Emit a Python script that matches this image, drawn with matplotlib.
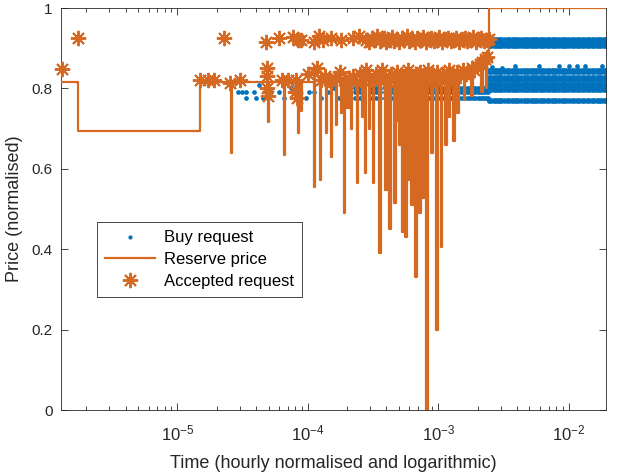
import numpy as np
import matplotlib.pyplot as plt

plt.rcParams['font.family'] = ['Liberation Sans', 'DejaVu Sans']
plt.rcParams['mathtext.fontset'] = 'custom'
plt.rcParams['mathtext.rm'] = 'Liberation Sans'
plt.rcParams['mathtext.it'] = 'Liberation Sans'
plt.rcParams['mathtext.default'] = 'regular'

BLUE = '#0072BD'
ORANGE = '#D56921'
AX_COL = '#262626'

# --- reserve price (stairs) ---
# opening steps
reserve_start_t = [1.28e-6, 1.73e-6, 1.50e-5]
reserve_start_p = [0.816, 0.694, 0.816]
# short drops: time, lowest price, price after the drop
spike_t = [2.56e-5, 4.92e-5, 6.53e-5, 8.37e-5, 8.83e-5, 1.11e-4, 1.24e-4, 1.37e-4,
           1.50e-4, 1.64e-4, 1.79e-4, 1.89e-4, 2.0e-4, 2.14e-4, 2.38e-4, 2.60e-4,
           2.74e-4, 2.94e-4, 3.16e-4, 3.52e-4, 3.91e-4, 4.20e-4, 4.59e-4, 4.84e-4,
           5.01e-4, 5.28e-4, 5.57e-4, 5.78e-4, 6.20e-4, 6.65e-4, 7.14e-4, 7.53e-4,
           8.09e-4, 8.84e-4, 9.66e-4, 1.05e-3, 1.13e-3, 1.19e-3, 1.30e-3, 1.40e-3,
           1.56e-3, 1.79e-3, 2.14e-3, 2.30e-3]
spike_low = [0.64, 0.716, 0.634, 0.69, 0.745, 0.555, 0.572, 0.69,
             0.63, 0.71, 0.74, 0.49, 0.75, 0.70, 0.565, 0.73,
             0.59, 0.70, 0.565, 0.39, 0.547, 0.45, 0.515, 0.72,
             0.66, 0.443, 0.43, 0.572, 0.51, 0.33, 0.49, 0.527,
             0.0, 0.64, 0.2, 0.405, 0.66, 0.73, 0.67, 0.74,
             0.77, 0.78, 0.79, 0.80]
spike_after = [0.816, 0.816, 0.816, 0.816, 0.816, 0.82, 0.816, 0.82,
               0.816, 0.82, 0.82, 0.816, 0.82, 0.82, 0.816, 0.82,
               0.82, 0.825, 0.82, 0.82, 0.825, 0.82, 0.825, 0.82,
               0.825, 0.825, 0.82, 0.825, 0.82, 0.825, 0.82, 0.825,
               0.82, 0.825, 0.82, 0.825, 0.83, 0.83, 0.83, 0.835,
               0.84, 0.85, 0.865, 0.88]
reserve_end_t = [2.43e-3, 1.93e-2]
reserve_end_p = [1.0, 1.0]

# --- accepted requests ---
acc_hi_t = [1.73e-6, 2.26e-5, 4.75e-5, 5.98e-5, 7.7e-5, 8.4e-5, 8.9e-5, 1.11e-4,
            1.22e-4, 1.30e-4, 1.50e-4, 1.79e-4, 2.22e-4, 2.47e-4, 2.8e-4, 2.95e-4,
            3.1e-4, 3.25e-4, 3.4e-4, 3.55e-4, 3.7e-4, 3.85e-4, 4.0e-4, 4.2e-4,
            4.4e-4, 4.6e-4, 4.8e-4, 5.0e-4, 5.25e-4, 5.5e-4, 5.75e-4, 6.0e-4,
            6.3e-4, 6.6e-4, 6.9e-4, 7.2e-4, 7.6e-4, 8.0e-4, 8.4e-4, 8.8e-4,
            9.2e-4, 9.7e-4, 1.02e-3, 1.07e-3, 1.12e-3, 1.18e-3, 1.24e-3, 1.3e-3,
            1.37e-3, 1.44e-3, 1.51e-3, 1.59e-3, 1.67e-3, 1.75e-3, 1.84e-3, 1.93e-3,
            2.03e-3, 2.13e-3, 2.24e-3, 2.35e-3, 2.43e-3]
acc_hi_p = [0.925, 0.925, 0.915, 0.925, 0.928, 0.92, 0.92, 0.915,
            0.93, 0.92, 0.925, 0.92, 0.925, 0.93, 0.92, 0.915,
            0.925, 0.92, 0.93, 0.918, 0.922, 0.926, 0.915, 0.92,
            0.928, 0.918, 0.922, 0.915, 0.925, 0.92, 0.93, 0.918,
            0.922, 0.915, 0.925, 0.92, 0.928, 0.916, 0.922, 0.925,
            0.918, 0.92, 0.927, 0.915, 0.922, 0.925, 0.918, 0.92,
            0.926, 0.916, 0.922, 0.925, 0.918, 0.92, 0.927, 0.916,
            0.922, 0.925, 0.918, 0.92, 0.922]
acc_lo_t = [1.30e-6, 1.50e-5, 1.70e-5, 1.89e-5, 2.51e-5, 3.0e-5, 4.84e-5, 4.84e-5,
            4.90e-5, 4.95e-5, 6.31e-5, 7.02e-5, 8.0e-5, 8.09e-5, 8.2e-5, 1.0e-4,
            1.11e-4, 1.17e-4, 1.25e-4, 1.35e-4, 1.45e-4, 1.6e-4, 1.75e-4, 1.9e-4,
            2.05e-4, 2.2e-4, 2.35e-4, 2.5e-4, 2.65e-4, 2.8e-4, 2.95e-4, 3.1e-4,
            3.3e-4, 3.5e-4, 3.7e-4, 3.9e-4, 4.1e-4, 4.3e-4, 4.55e-4, 4.8e-4,
            5.05e-4, 5.3e-4, 5.6e-4, 5.9e-4, 6.2e-4, 6.55e-4, 6.9e-4, 7.25e-4,
            7.6e-4, 8.0e-4, 8.4e-4, 8.85e-4, 9.3e-4, 9.8e-4, 1.03e-3, 1.08e-3,
            1.14e-3, 1.2e-3, 1.26e-3, 1.33e-3, 1.4e-3, 1.47e-3, 1.55e-3, 1.63e-3,
            1.71e-3, 1.8e-3, 1.89e-3, 1.98e-3, 2.08e-3, 2.18e-3, 2.28e-3, 2.38e-3]
acc_lo_p = [0.848, 0.82, 0.82, 0.82, 0.813, 0.82, 0.85, 0.83,
            0.80, 0.78, 0.82, 0.82, 0.79, 0.82, 0.776, 0.835,
            0.84, 0.85, 0.82, 0.83, 0.82, 0.825, 0.84, 0.82,
            0.825, 0.83, 0.815, 0.835, 0.82, 0.845, 0.825, 0.82,
            0.835, 0.82, 0.845, 0.825, 0.815, 0.835, 0.82, 0.84,
            0.825, 0.83, 0.815, 0.845, 0.825, 0.82, 0.835, 0.84,
            0.825, 0.82, 0.845, 0.83, 0.82, 0.84, 0.825, 0.835,
            0.82, 0.845, 0.83, 0.825, 0.84, 0.83, 0.845, 0.835,
            0.84, 0.85, 0.845, 0.855, 0.86, 0.865, 0.872, 0.878]

# --- buy requests ---
buy_early_t = [2.90e-5, 3.10e-5, 3.33e-5, 3.33e-5, 3.85e-5, 3.98e-5, 4.20e-5, 4.51e-5,
               5.19e-5, 5.98e-5, 6.53e-5, 7.40e-5, 8.37e-5, 9.66e-5, 1.02e-4, 1.11e-4,
               1.26e-4, 1.43e-4, 1.58e-4, 1.73e-4]
buy_early_p = [0.79, 0.79, 0.79, 0.776, 0.79, 0.776, 0.808, 0.776,
               0.79, 0.79, 0.776, 0.80, 0.79, 0.776, 0.79, 0.79,
               0.776, 0.79, 0.80, 0.776]
buy_mid_t = [1.9e-4, 2.1e-4, 2.3e-4, 2.5e-4, 2.7e-4, 3.0e-4, 3.3e-4, 3.6e-4,
             3.9e-4, 4.2e-4, 4.5e-4, 4.8e-4, 5.2e-4, 5.6e-4, 6.0e-4, 6.4e-4,
             6.9e-4, 7.4e-4, 7.9e-4, 8.5e-4, 9.1e-4, 9.7e-4, 1.03e-3, 1.1e-3,
             1.17e-3, 1.24e-3, 1.31e-3, 1.38e-3, 1.45e-3, 1.52e-3, 1.6e-3, 1.68e-3,
             1.76e-3, 1.84e-3, 1.92e-3, 2.0e-3, 2.08e-3, 2.16e-3, 2.24e-3, 2.32e-3, 2.4e-3]
buy_mid_levels = [0.80, 0.79, 0.776]
buy_late_t = [2.45e-3, 2.55e-3, 2.65e-3, 2.75e-3, 2.85e-3, 2.95e-3, 3.05e-3, 3.2e-3,
              3.35e-3, 3.5e-3, 3.65e-3, 3.8e-3, 3.95e-3, 4.1e-3, 4.3e-3, 4.5e-3,
              4.7e-3, 4.9e-3, 5.1e-3, 5.3e-3, 5.5e-3, 5.75e-3, 6.0e-3, 6.25e-3,
              6.5e-3, 6.8e-3, 7.1e-3, 7.4e-3, 7.7e-3, 8.0e-3, 8.4e-3, 8.8e-3,
              9.2e-3, 9.6e-3, 1.0e-2, 1.05e-2, 1.1e-2, 1.15e-2, 1.2e-2, 1.26e-2,
              1.32e-2, 1.38e-2, 1.44e-2, 1.5e-2, 1.57e-2, 1.64e-2, 1.71e-2, 1.78e-2,
              1.85e-2, 1.92e-2]
buy_late_levels = [0.906, 0.912, 0.918, 0.924, 0.846, 0.840, 0.828, 0.820, 0.812,
                   0.804, 0.796, 0.772, 0.768]
buy_sparse_t = [2.6e-3, 3.1e-3, 3.85e-3, 5.88e-3, 8.37e-3, 1.0e-2, 1.15e-2, 1.33e-2, 1.80e-2]
buy_sparse_p = [0.852, 0.85, 0.856, 0.856, 0.856, 0.856, 0.856, 0.856, 0.856]

# build the buy request point cloud
buy_t = list(buy_early_t) + list(buy_sparse_t)
buy_p = list(buy_early_p) + list(buy_sparse_p)
for lvl in buy_mid_levels:
    buy_t += buy_mid_t
    buy_p += [lvl] * len(buy_mid_t)
for lvl in buy_late_levels:
    buy_t += buy_late_t
    buy_p += [lvl] * len(buy_late_t)

# build stairs path of the reserve price
res_t = list(reserve_start_t)
res_p = list(reserve_start_p)
for t, lo, after in zip(spike_t, spike_low, spike_after):
    res_t += [t, t * 1.025]
    res_p += [lo, after]
res_t += reserve_end_t
res_p += reserve_end_p

fig = plt.figure(figsize=(6.17, 4.73), dpi=100)
ax = fig.add_axes([61 / 617, 63 / 473, 545 / 617, 402 / 473])

ax.plot(buy_t, buy_p, 'o', color=BLUE, markersize=3.4, markeredgewidth=0,
        linestyle='none', label='Buy request', zorder=2)
ax.plot(res_t, res_p, '-', color=ORANGE, linewidth=1.6, drawstyle='steps-post',
        label='Reserve price', zorder=3)
star = (8, 2, 0)
ax.plot(acc_hi_t + acc_lo_t, acc_hi_p + acc_lo_p, linestyle='none', marker=star,
        markersize=11, markeredgewidth=1.4, color=ORANGE,
        label='Accepted request', zorder=4, clip_on=False)

ax.set_xscale('log')
ax.set_xlim(1.28e-6, 1.93e-2)
ax.set_ylim(0, 1)
ax.set_yticks([0, 0.2, 0.4, 0.6, 0.8, 1])
ax.set_yticklabels(['0', '0.2', '0.4', '0.6', '0.8', '1'])

for s in ax.spines.values():
    s.set_color(AX_COL)
    s.set_linewidth(0.6)
ax.tick_params(which='both', direction='in', top=True, right=True,
               colors=AX_COL, labelsize=11, width=0.6)
ax.tick_params(which='major', length=5)
ax.tick_params(which='minor', length=3)
ax.tick_params(axis='x', which='major', pad=10, labelsize=12)
ax.tick_params(axis='y', which='major', pad=6)

ax.set_xlabel('Time (hourly normalised and logarithmic)', fontsize=13,
              color=AX_COL, labelpad=8)
ax.set_ylabel('Price (normalised)', fontsize=13, color=AX_COL, labelpad=6)

leg = ax.legend(loc='lower left', bbox_to_anchor=(0.066, 0.281), fontsize=12,
                fancybox=False, framealpha=1, edgecolor=AX_COL, handlelength=3.0,
                handletextpad=0.5, borderaxespad=0, borderpad=0.5, labelspacing=0.4)
leg.get_frame().set_linewidth(0.6)
for h in leg.legend_handles:
    if h.get_label() == 'Buy request':
        h.set_markersize(3)

fig.savefig('out.png', dpi=100)
